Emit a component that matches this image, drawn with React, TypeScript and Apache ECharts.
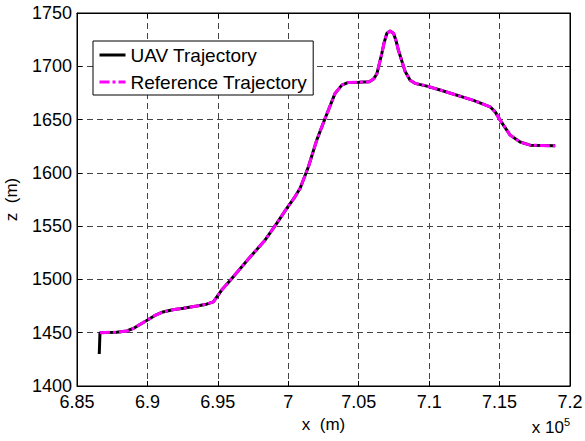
import React, { useEffect, useRef } from "react";
import * as echarts from "echarts";

// x in metres, z in metres
const refX = [
  686630, 687000, 687800, 688530, 689000, 689500, 689950, 690500, 691100, 691800,
  692550, 693500, 694200, 694680, 695270, 695870, 697290, 698300, 699180, 699890,
  700400, 700840, 701430, 702020, 702610, 703320, 703800, 704270, 705000, 705750,
  706050, 706290, 706640, 706800, 707000, 707230, 707470, 707650, 707820, 708300,
  708650, 709000, 709840, 710780, 713150, 714330, 714700, 715040, 715750, 716460,
  717170, 718950,
];
const refZ = [
  1450, 1450.2, 1450.5, 1451.6, 1454, 1458, 1461.5, 1466, 1469.5, 1471.5,
  1473, 1475, 1476.8, 1479, 1490, 1499, 1521, 1536, 1552.6, 1566.7,
  1576, 1585.5, 1605.7, 1630.7, 1651, 1674.6, 1682.3, 1684.9, 1685, 1685.5,
  1688, 1693, 1712, 1722, 1731, 1733, 1731, 1724, 1715, 1695,
  1687, 1684, 1681.4, 1677.7, 1668, 1662, 1657, 1649.5, 1635.4, 1629,
  1626, 1625.4,
];
const uavStartX = [686580];
const uavStartZ = [1430];

const xTicks = { min: 685000, max: 720000, interval: 5000 };
const zTicks = { min: 1400, max: 1750, interval: 50 };

const FONT = "'Liberation Sans', Arial, sans-serif";

export default function App() {
  const ref = useRef<HTMLDivElement>(null);
  useEffect(() => {
    if (!ref.current) return;
    const chart = echarts.init(ref.current, undefined, { renderer: "svg" });
    const refData = refX.map((x, i) => [x, refZ[i]]);
    const uavData = uavStartX.map((x, i) => [x, uavStartZ[i]]).concat(refData);
    const gridLine = { show: true, lineStyle: { color: "#444", type: [6, 4] as any, width: 1 } };
    const tick = { show: true, inside: true, length: 5, lineStyle: { color: "#000" } };
    chart.setOption({
      animation: false,
      backgroundColor: "#fff",
      textStyle: { fontFamily: FONT },
      grid: {
        left: 77, right: 15, top: 13, bottom: 55,
        outerBoundsMode: "none",
        containLabel: false,
        show: true, borderColor: "#000", borderWidth: 1, backgroundColor: "transparent",
      },
      legend: {
        left: 93,
        top: 41,
        orient: "vertical",
        data: ["UAV Trajectory", "Reference Trajectory"],
        backgroundColor: "#fff",
        borderColor: "#000",
        borderWidth: 1,
        borderRadius: 0,
        padding: [4, 6, 3, 5],
        itemGap: 7,
        itemWidth: 26,
        itemHeight: 12,
        itemStyle: { opacity: 0 },
        lineStyle: { width: 3 },
        textStyle: { fontSize: 19, lineHeight: 20, color: "#000", fontFamily: FONT },
      },
      xAxis: [
        {
          type: "value",
          ...xTicks,
          axisLine: { show: true, onZero: false, lineStyle: { color: "#000" } },
          axisTick: tick,
          splitLine: gridLine,
          axisLabel: {
            fontSize: 18,
            color: "#000",
            margin: 7,
            formatter: (v: number) => String(+(v / 1e5).toFixed(2)),
          },
          name: "x  (m)",
          nameLocation: "middle",
          nameGap: 23,
          nameTextStyle: { fontSize: 17, color: "#000", fontFamily: FONT },
        },
        {
          type: "value",
          position: "top",
          ...xTicks,
          axisLine: { show: true, onZero: false, lineStyle: { color: "#000" } },
          axisTick: tick,
          splitLine: { show: false },
          axisLabel: { show: false },
        },
      ],
      yAxis: [
        {
          type: "value",
          ...zTicks,
          axisLine: { show: true, onZero: false, lineStyle: { color: "#000" } },
          axisTick: tick,
          splitLine: gridLine,
          axisLabel: { fontSize: 18, color: "#000", margin: 5, formatter: (v: number) => String(v) },
          name: "z  (m)",
          nameLocation: "middle",
          nameGap: 57,
          nameTextStyle: { fontSize: 17, color: "#000", fontFamily: FONT },
        },
        {
          type: "value",
          position: "right",
          ...zTicks,
          axisLine: { show: true, onZero: false, lineStyle: { color: "#000" } },
          axisTick: tick,
          splitLine: { show: false },
          axisLabel: { show: false },
        },
      ],
      graphic: [
        {
          type: "text",
          right: 15,
          top: 416,
          style: {
            text: "x 10{sup|5}",
            fontSize: 17,
            fontFamily: FONT,
            fill: "#000",
            rich: { sup: { fontSize: 11, verticalAlign: "top", padding: [0, 0, 12, 0] } },
          },
        },
      ],
      series: [
        {
          name: "UAV Trajectory",
          type: "line",
          data: uavData,
          showSymbol: false,
          symbol: "none",
          lineStyle: { color: "#000", width: 3 },
          itemStyle: { color: "#000" },
          z: 2,
        },
        {
          name: "Reference Trajectory",
          type: "line",
          data: refData,
          showSymbol: false,
          symbol: "none",
          lineStyle: { color: "#ff00ff", width: 3, type: [10, 3, 3, 3] as any },
          itemStyle: { color: "#ff00ff" },
          z: 3,
        },
      ],
    });
    return () => chart.dispose();
  }, []);
  return <div ref={ref} style={{ width: 585, height: 441, position: "absolute", left: 0, top: 0 }} />;
}
